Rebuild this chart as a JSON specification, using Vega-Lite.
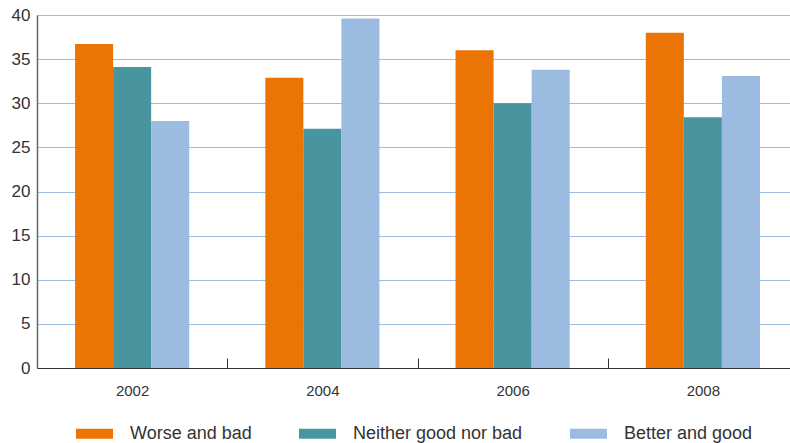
{
  "$schema": "https://vega.github.io/schema/vega-lite/v6.json",
  "width": 761,
  "height": 353,
  "autosize": {"type": "none"},
  "padding": {"left": 37, "top": 15, "right": 0, "bottom": 75},
  "background": "white",
  "config": {
    "view": {"stroke": null},
    "font": "Liberation Sans",
    "axis": {"labelColor": "#333333", "titleColor": "#333333"}
  },
  "data": {
    "values": [
      {"year": "2002", "cat": "Worse and bad", "v": 36.7},
      {"year": "2002", "cat": "Neither good nor bad", "v": 34.1},
      {"year": "2002", "cat": "Better and good", "v": 28.0},
      {"year": "2004", "cat": "Worse and bad", "v": 32.9},
      {"year": "2004", "cat": "Neither good nor bad", "v": 27.1},
      {"year": "2004", "cat": "Better and good", "v": 39.6},
      {"year": "2006", "cat": "Worse and bad", "v": 36.0},
      {"year": "2006", "cat": "Neither good nor bad", "v": 30.0},
      {"year": "2006", "cat": "Better and good", "v": 33.8},
      {"year": "2008", "cat": "Worse and bad", "v": 38.0},
      {"year": "2008", "cat": "Neither good nor bad", "v": 28.4},
      {"year": "2008", "cat": "Better and good", "v": 33.1}
    ]
  },
  "mark": {"type": "bar"},
  "encoding": {
    "x": {
      "field": "year", "type": "nominal",
      "scale": {"paddingInner": 0, "paddingOuter": 0},
      "axis": {
        "title": null, "labelAngle": 0, "labelFontSize": 15, "labelPadding": 25,
        "tickBand": "extent", "tickSize": -10, "tickColor": "#333333",
        "domainColor": "#333333", "domainWidth": 1.2, "grid": false
      }
    },
    "xOffset": {
      "field": "cat",
      "sort": ["Worse and bad", "Neither good nor bad", "Better and good"],
      "scale": {"paddingInner": 0, "paddingOuter": 1.0676}
    },
    "y": {
      "field": "v", "type": "quantitative",
      "scale": {"domain": [0, 40]},
      "axis": {
        "title": null, "values": [0, 5, 10, 15, 20, 25, 30, 35, 40],
        "labelFontSize": 17, "labelPadding": 7, "ticks": false,
        "domainColor": "#666666", "domainWidth": 1.5,
        "gridColor": "#9BBBE0", "gridWidth": 1
      }
    },
    "color": {
      "field": "cat", "type": "nominal",
      "sort": ["Worse and bad", "Neither good nor bad", "Better and good"],
      "scale": {
        "domain": ["Worse and bad", "Neither good nor bad", "Better and good"],
        "range": ["#EC7404", "#48959F", "#9BBBE0"]
      },
      "legend": {
        "title": null, "orient": "none", "direction": "horizontal",
        "legendX": 39, "legendY": 400,
        "symbolType": "M-1,-0.27H1V0.27H-1Z", "symbolSize": 1369,
        "symbolStrokeWidth": 0, "symbolOpacity": 1,
        "labelFontSize": 18, "labelColor": "#333333", "labelOffset": 17,
        "labelLimit": 400, "columnPadding": 47
      }
    }
  }
}
